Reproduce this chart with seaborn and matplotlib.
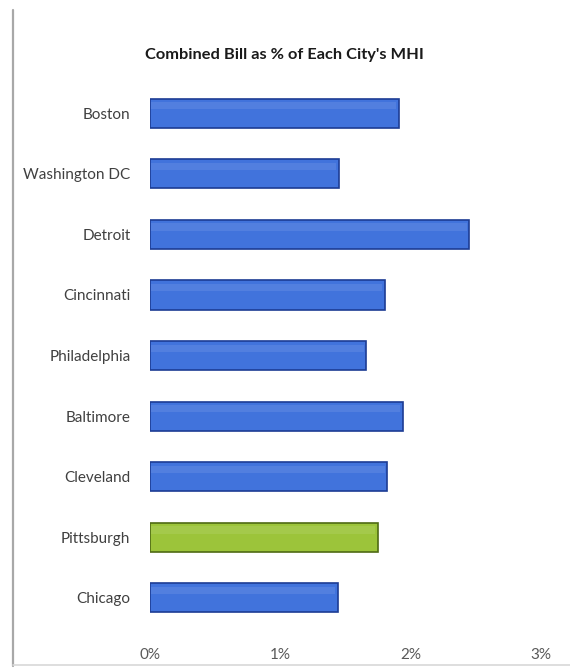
import matplotlib
matplotlib.use("Agg")
import matplotlib.pyplot as plt
import seaborn as sns
import pandas as pd
from matplotlib.lines import Line2D

cities = ["Boston", "Washington DC", "Detroit", "Cincinnati", "Philadelphia",
          "Baltimore", "Cleveland", "Pittsburgh", "Chicago"]
bill_pct = [1.91, 1.45, 2.45, 1.80, 1.66, 1.94, 1.82, 1.75, 1.44]
highlight = "Pittsburgh"
x_ticks = [0, 1, 2, 3]
x_tick_labels = ["0%", "1%", "2%", "3%"]

df = pd.DataFrame({"city": cities, "pct": bill_pct})
blue, green = "#4173dc", "#9cc43a"
palette = {c: (green if c == highlight else blue) for c in cities}
edges = {blue: "#1c3c94", green: "#4f6a14"}

sns.set_theme(style="white")
plt.rcParams["font.family"] = ["Lato", "DejaVu Sans"]

fig = plt.figure(figsize=(5.70, 6.69), dpi=100)
fig.patch.set_facecolor("white")
ax = fig.add_axes([0.263, 0.061, 0.686, 0.815])

sns.barplot(data=df, x="pct", y="city", hue="city", palette=palette,
            order=cities, width=0.48, legend=False, ax=ax, saturation=1)

for patch, city in zip(ax.patches, cities):
    fc = palette[city]
    patch.set_edgecolor(edges[fc])
    patch.set_linewidth(1.2)
    # soft highlight along the upper part of each bar
    x0, y0 = patch.get_x(), patch.get_y()
    w, h = patch.get_width(), patch.get_height()
    ax.add_patch(plt.Rectangle((x0 + 0.01, y0 + h * 0.12), w - 0.03, h * 0.25,
                               facecolor="white", alpha=0.09, lw=0, zorder=3))

ax.set_xlim(0, 3)
ax.set_xticks(x_ticks)
ax.set_xticklabels(x_tick_labels, color="#595959", fontsize=11)
ax.tick_params(axis="x", length=0, pad=14)
ax.tick_params(axis="y", length=0, pad=14, labelsize=11, labelcolor="#404040")
ax.set_xlabel("")
ax.set_ylabel("")
for s in ax.spines.values():
    s.set_visible(False)

fig.text(0.499, 0.918, "Combined Bill as % of Each City's MHI",
         ha="center", va="center", fontsize=11.8, fontweight="bold", color="#1a1a1a")

# frame edges
fig.add_artist(Line2D([0.022, 0.022], [0.005, 0.985], color="#a8a8a8", lw=1.6))
fig.add_artist(Line2D([0.022, 1.0], [0.006, 0.006], color="#d8d8d8", lw=1.2))

fig.savefig("out.png", dpi=100, facecolor="white")
